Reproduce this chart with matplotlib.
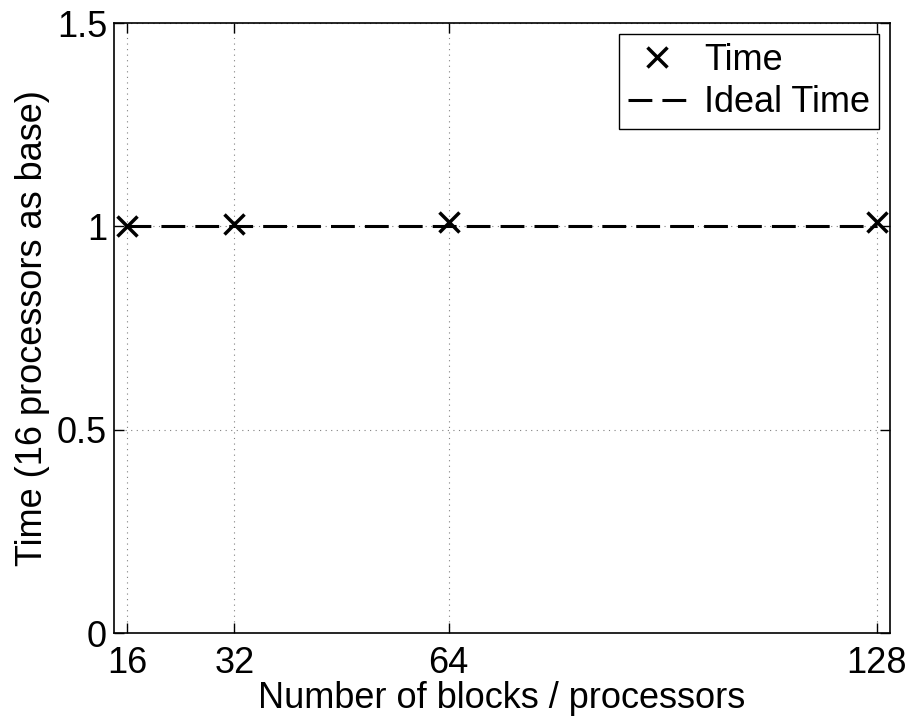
import numpy as np
import matplotlib.pyplot as plt

plt.rcParams['font.family'] = ['Liberation Sans', 'DejaVu Sans']

procs = [16, 32, 64, 128]
time_vals = [1.0, 1.005, 1.011, 1.011]
ideal_vals = [1.0, 1.0, 1.0, 1.0]

fig = plt.figure(figsize=(9.12, 7.21), dpi=100)
ax = fig.add_axes([0.125, 0.122, 0.851, 0.846])

ax.plot(procs, time_vals, linestyle='none', marker='x', color='black',
        markersize=15, markeredgewidth=2.5, label='Time', zorder=3)
ax.plot(procs, ideal_vals, color='black', linewidth=2.2, dashes=(7.8, 3.3),
        label='Ideal Time', zorder=2)

ax.set_xlim(14, 130)
ax.set_ylim(0, 1.5)
ax.set_xticks(procs)
ax.set_yticks([0, 0.5, 1, 1.5])
ax.set_yticklabels(['0', '0.5', '1', '1.5'])
ax.grid(True, linestyle=(0, (1, 4)), color='gray', linewidth=0.8)
ax.tick_params(direction='in', top=True, right=True, labelsize=26,
               length=7, width=1)
ax.tick_params(axis='x', pad=9)
ax.tick_params(axis='y', pad=5)
for s in ax.spines.values():
    s.set_linewidth(1.2)

ax.set_xlabel('Number of blocks / processors', fontsize=26, labelpad=0)
ax.set_ylabel('Time (16 processors as base)', fontsize=26, labelpad=5)

leg = ax.legend(loc='upper right', fontsize=26, fancybox=False,
                framealpha=1, edgecolor='black', handlelength=1.6,
                borderpad=0.25, labelspacing=0.2, handletextpad=0.5,
                borderaxespad=0.3)
leg.get_frame().set_linewidth(1.0)

fig.savefig('out.png', dpi=100)
